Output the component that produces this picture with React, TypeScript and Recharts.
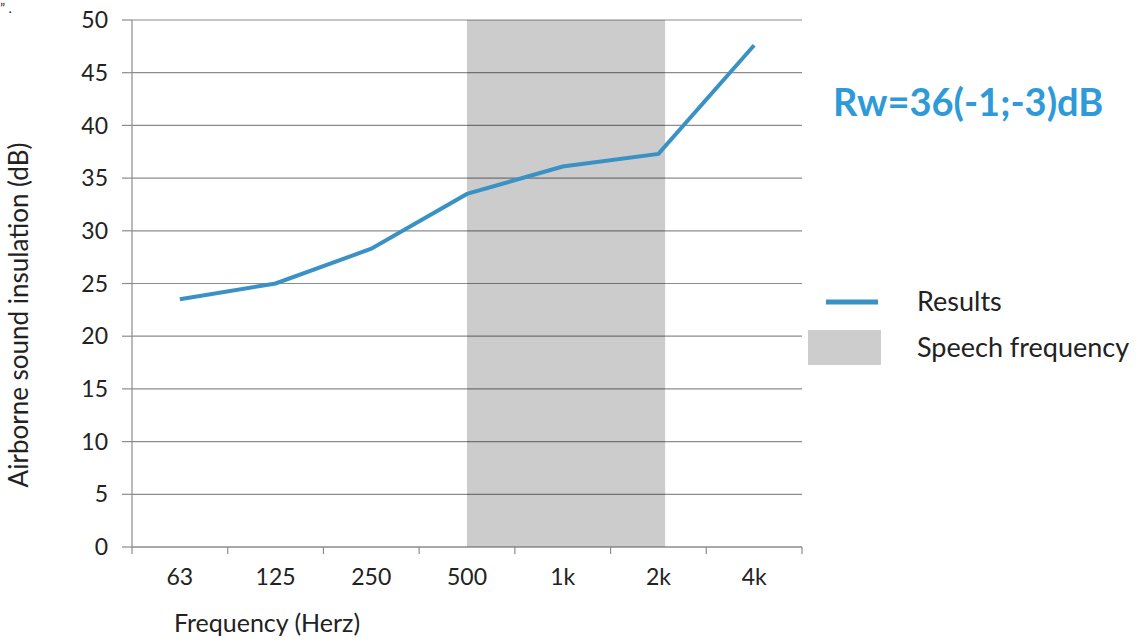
import {
  CartesianGrid,
  Legend,
  Line,
  LineChart,
  ReferenceArea,
  XAxis,
  YAxis,
} from "recharts";

const categories = ["63", "125", "250", "500", "1k", "2k", "4k"];
const results = [23.5, 25, 28.3, 33.5, 36.1, 37.3, 47.6];
const yTicks = [0, 5, 10, 15, 20, 25, 30, 35, 40, 45, 50];
// speech band in category units: from the 500 point to just past the 2k point
const speechBand = [3.5, 5.57];
const rating = "Rw=36(-1;-3)dB";
const legendItems = [
  { label: "Results", kind: "line" },
  { label: "Speech frequency", kind: "area" },
];

const FONT = "Lato, 'Open Sans', sans-serif";
const GRID = "#8c8c8c";
const BLUE = "#3a92c4";
const TEXT = "#222";

const data = categories.map((name, i) => ({ x: i + 0.5, name, results: results[i] }));

// tick marks sit on category boundaries, labels sit in the middle of each category
const xTicks = [
  ...categories.map((_, i) => i),
  categories.length,
  ...categories.map((_, i) => i + 0.5),
].sort((a, b) => a - b);

function XTick(props: any) {
  const { x, y, payload } = props;
  const v = payload.value as number;
  if (Number.isInteger(v)) {
    return <line x1={x} x2={x} y1={y} y2={y + 7} stroke={GRID} strokeWidth={1.2} />;
  }
  return (
    <text x={x} y={y + 38} textAnchor="middle" fill={TEXT} fontSize={23} fontFamily={FONT}>
      {categories[Math.floor(v)]}
    </text>
  );
}

function LegendBox() {
  return (
    <svg width={339} height={100}>
      {legendItems.map((it, i) => {
        const cy = 22 + i * 46;
        return (
          <g key={it.label}>
            {it.kind === "line" ? (
              <line x1={26} x2={78} y1={cy} y2={cy} stroke={BLUE} strokeWidth={5} />
            ) : (
              <rect x={8} y={cy - 18} width={73} height={35} fill="#cdcdcd" />
            )}
            <text x={117} y={cy + 9} fill={TEXT} fontSize={27} fontFamily={FONT}>
              {it.label}
            </text>
          </g>
        );
      })}
    </svg>
  );
}

export default function App() {
  return (
    <div style={{ position: "absolute", left: 0, top: 0, width: 1139, height: 642, background: "#fff" }}>
      <LineChart
        width={1139}
        height={642}
        data={data}
        margin={{ top: 20, right: 337, bottom: 0, left: 0 }}
      >
        <CartesianGrid vertical={false} stroke={GRID} strokeWidth={1.2} />
        <ReferenceArea
          x1={speechBand[0]}
          x2={speechBand[1]}
          y1={0}
          y2={50}
          fill="#000"
          fillOpacity={0.2}
          stroke="none"
        />
        <XAxis
          dataKey="x"
          type="number"
          domain={[0, categories.length]}
          ticks={xTicks}
          interval={0}
          tick={(p: any) => <XTick {...p} />}
          tickLine={false}
          tickSize={0}
          tickMargin={0}
          axisLine={{ stroke: GRID, strokeWidth: 1.2 }}
          height={95}
          label={{
            content: () => (
              <text x={267} y={632} textAnchor="middle" fill={TEXT} fontSize={25} fontFamily={FONT}>
                Frequency (Herz)
              </text>
            ),
          }}
        />
        <YAxis
          type="number"
          domain={[0, 50]}
          ticks={yTicks}
          interval={0}
          width={132}
          tickSize={10}
          tickMargin={14}
          tickLine={{ stroke: GRID, strokeWidth: 1.2 }}
          axisLine={{ stroke: GRID, strokeWidth: 1.2 }}
          tick={{ fill: TEXT, fontSize: 23, fontFamily: FONT }}
          label={{
            content: () => (
              <text
                x={28}
                y={315}
                transform="rotate(-90 28 315)"
                textAnchor="middle"
                fill={TEXT}
                fontSize={26}
                fontFamily={FONT}
              >
                Airborne sound insulation (dB)
              </text>
            ),
          }}
        />
        <Line
          dataKey="results"
          type="linear"
          stroke={BLUE}
          strokeWidth={4}
          dot={false}
          activeDot={false}
          isAnimationActive={false}
        />
        <Legend
          layout="horizontal"
          verticalAlign="middle"
          align="center"
          content={() => <LegendBox />}
          wrapperStyle={{ position: "absolute", left: 800, top: 280, width: 339, height: 100 }}
        />
      </LineChart>
      <div
        style={{
          position: "absolute",
          left: 833,
          top: 78,
          fontFamily: FONT,
          fontWeight: 700,
          fontSize: 38,
          color: "#2f9ad8",
          whiteSpace: "nowrap",
        }}
      >
        {rating}
      </div>
      <div
        style={{
          position: "absolute",
          left: 0,
          top: 0,
          fontSize: 14,
          lineHeight: "16px",
          fontFamily: FONT,
          color: "#333",
          whiteSpace: "nowrap",
        }}
      >
        ” .
      </div>
    </div>
  );
}
